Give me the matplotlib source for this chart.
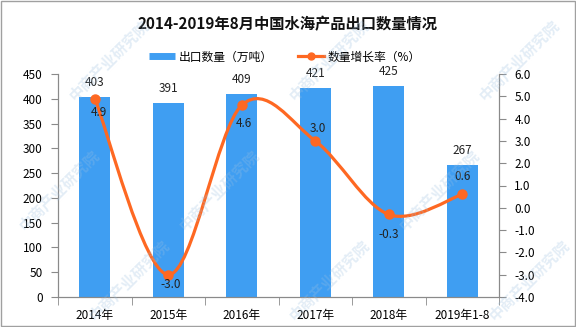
import numpy as np
import matplotlib.pyplot as plt
from matplotlib.path import Path
from matplotlib.patches import PathPatch, Rectangle
from matplotlib.lines import Line2D

plt.rcParams['font.family'] = ['Noto Sans CJK SC', 'DejaVu Sans']

# chart data
years = ['2014年', '2015年', '2016年', '2017年', '2018年', '2019年1-8']
export_qty = [403, 391, 409, 421, 425, 267]      # 万吨
growth = [4.9, -3.0, 4.6, 3.0, -0.3, 0.6]         # %

title = '2014-2019年8月中国水海产品出口数量情况'
bar_name = '出口数量（万吨）'
line_name = '数量增长率（%）'

BLUE = '#3f9ef2'
ORANGE = '#fe6822'
AXIS = '#8a8a8a'

fig = plt.figure(figsize=(5.76, 3.27), dpi=100)
ax = fig.add_axes([58 / 576, 30 / 327, 441 / 576, 223 / 327])
ax2 = ax.twinx()

x = np.arange(len(years))
ax.bar(x, export_qty, width=0.42, color=BLUE, zorder=2)
for xi, v in zip(x, export_qty):
    ax.annotate(str(v), (xi, v), xytext=(0, 8), textcoords='offset pixels',
                ha='center', va='bottom', fontsize=8.5, color='#222222')

ax.set_xlim(-0.5, len(years) - 0.5)
ax.set_ylim(0, 450)
ax.set_yticks(np.arange(0, 451, 50))
ax.set_xticks(x)
ax.set_xticklabels(years, fontsize=8.5)
ax.set_xticks(np.arange(-0.5, len(years), 1), minor=True)
ax.tick_params(axis='x', which='major', length=0, pad=9)
ax.tick_params(axis='x', which='minor', length=6, color=AXIS)
ax.tick_params(axis='y', length=5, color=AXIS, labelsize=8.5, pad=6)

ax2.set_ylim(-4, 6)
ax2.set_yticks(np.arange(-4, 6.1, 1))
ax2.set_yticklabels([f'{t:.1f}' for t in np.arange(-4, 6.1, 1)])
ax2.tick_params(axis='y', length=5, color=AXIS, labelsize=8.5, pad=6)

for a in (ax, ax2):
    a.spines['top'].set_visible(False)
    for s in ('left', 'right', 'bottom'):
        a.spines[s].set_color(AXIS)

# smooth curve (Catmull-Rom as cubic Bezier) through the growth points
px = np.asarray(x, float)
py = np.asarray(growth, float)
n = len(px)
verts = [(px[0], py[0])]
codes = [Path.MOVETO]
for i in range(n - 1):
    i0 = max(i - 1, 0)
    i3 = min(i + 2, n - 1)
    c1 = (px[i] + (px[i + 1] - px[i0]) / 6, py[i] + (py[i + 1] - py[i0]) / 6)
    c2 = (px[i + 1] - (px[i3] - px[i]) / 6, py[i + 1] - (py[i3] - py[i]) / 6)
    verts += [c1, c2, (px[i + 1], py[i + 1])]
    codes += [Path.CURVE4] * 3
ax2.add_patch(PathPatch(Path(verts, codes), fill=False, edgecolor=ORANGE,
                        lw=2.3, zorder=3, capstyle='round'))
ax2.plot(px, py, 'o', color=ORANGE, markersize=6.5, zorder=4)

label_offsets = [(4, -14), (2, -10), (2, -18), (3, 12), (0, -20), (0, 18)]
for xi, v, off in zip(px, py, label_offsets):
    ax2.annotate(f'{v:.1f}', (xi, v), xytext=off, textcoords='offset pixels',
                 ha='center', va='center', fontsize=8.5, color='#222222', zorder=5)

fig.text(0.5, 1 - 24 / 327, title, ha='center', va='center',
         fontsize=11, fontweight='bold', color='#111111')

handles = [Line2D([], [], color=BLUE, lw=5, solid_capstyle='butt'),
           Line2D([], [], color=ORANGE, lw=2.3, marker='o', markersize=5)]
fig.legend(handles, [bar_name, line_name], loc='center', ncol=2,
           bbox_to_anchor=(285 / 576, 1 - 57 / 327), frameon=False,
           fontsize=8.5, handlelength=2.2, handletextpad=0.3, columnspacing=2.2)

# watermark
for cx, cy in [(110, 60), (330, 60), (520, 60), (220, 190), (440, 190),
               (60, 190), (130, 280), (330, 280), (530, 280)]:
    fig.text(cx / 576, 1 - cy / 327, '中商产业研究院', rotation=45,
             ha='center', va='center', fontsize=11, fontweight='bold',
             color='#9cc0e0', alpha=0.28, zorder=10)

fig.patches.append(Rectangle((0.001, 0.002), 0.997, 0.995, transform=fig.transFigure,
                             fill=False, edgecolor='#a0a0a0', lw=1))

fig.savefig('out.png', dpi=100)
